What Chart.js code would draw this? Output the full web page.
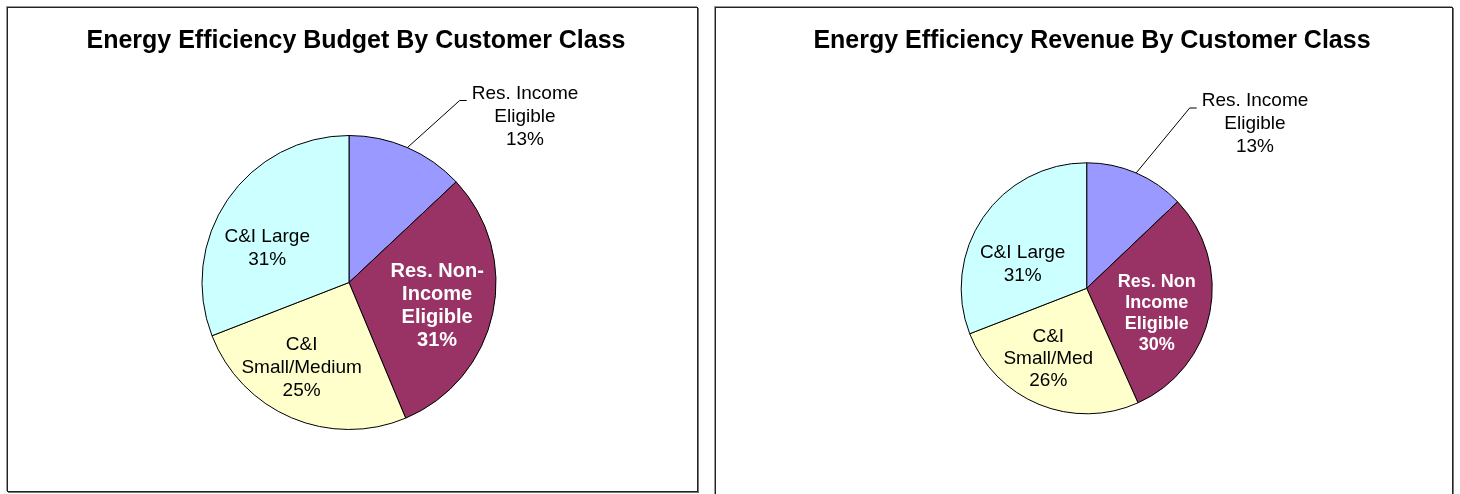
<!DOCTYPE html>
<html>
<head>
<meta charset="utf-8">
<script src="https://cdn.jsdelivr.net/npm/chart.js@4/dist/chart.umd.min.js"></script>
<style>
  html, body { margin: 0; padding: 0; background: #ffffff; }
  body { width: 1460px; height: 494px; position: relative; overflow: hidden; }
  .frame { position: absolute; box-sizing: border-box; border: 1px solid #222; box-shadow: 1px 1px 0 #777, -1px -1px 0 #999; }
  canvas { position: absolute; }
</style>
</head>
<body>
<div class="frame" style="left:7px; top:7px; width:691px; height:485px;"></div>
<div class="frame" style="left:715px; top:7px; width:738px; height:500px;"></div>
<canvas id="budget" width="689" height="483" style="left:8px; top:8px;"></canvas>
<canvas id="revenue" width="736" height="486" style="left:716px; top:8px;"></canvas>
<script>
// ---- Data ----
const budgetTitle = "Energy Efficiency Budget By Customer Class";
const budgetCategories = [["Res. Income", "Eligible"], ["Res. Non-", "Income", "Eligible"], ["C&I", "Small/Medium"], ["C&I Large"]];
const budgetValues = [13.0, 30.7, 25.4, 30.9];

const revenueTitle = "Energy Efficiency Revenue By Customer Class";
const revenueCategories = [["Res. Income", "Eligible"], ["Res. Non", "Income", "Eligible"], ["C&I", "Small/Med"], ["C&I Large"]];
const revenueValues = [12.9, 30.4, 25.8, 30.9];

// ---- Styles ----
const sliceColors = ["#9999FF", "#993366", "#FFFFCC", "#CCFFFF"];
const FONT = '"Liberation Sans", Arial, Helvetica, sans-serif';

const sliceLabelPlugin = {
  id: 'sliceLabels',
  afterDatasetsDraw(chart, args, opts) {
    const ctx = chart.ctx;
    ctx.save();
    // title
    ctx.fillStyle = '#000';
    ctx.font = 'bold 25px ' + FONT;
    ctx.textAlign = 'center';
    ctx.textBaseline = 'middle';
    ctx.fillText(opts.title, opts.titleX, opts.titleY);

    const meta = chart.getDatasetMeta(0);
    const vals = chart.data.datasets[0].data;
    const sum = vals.reduce((a, b) => a + b, 0);
    meta.data.forEach((arc, i) => {
      const p = arc.getProps(['x', 'y', 'startAngle', 'endAngle', 'outerRadius'], true);
      const mid = (p.startAngle + p.endAngle) / 2;
      const cfg = opts.items[i];
      const lines = [].concat(chart.data.labels[i]);
      lines.push(Math.round(vals[i] / sum * 100) + '%');
      const cx = p.x + Math.cos(mid) * p.outerRadius * cfg.r + cfg.dx;
      const cy = p.y + Math.sin(mid) * p.outerRadius * cfg.r + cfg.dy;
      ctx.font = (cfg.bold ? 'bold ' : '') + cfg.size + 'px ' + FONT;
      ctx.fillStyle = cfg.color;
      ctx.textAlign = 'center';
      ctx.textBaseline = 'middle';
      const lh = cfg.lh;
      const top = cy - (lines.length - 1) * lh / 2;
      lines.forEach((t, k) => ctx.fillText(t, cx, top + k * lh));
      if (cfg.leader) {
        const w = ctx.measureText(lines[0]).width;
        const ex = cx - w / 2 - 5;
        const ey = top + 7;
        const sx = p.x + Math.cos(mid) * p.outerRadius;
        const sy = p.y + Math.sin(mid) * p.outerRadius;
        ctx.strokeStyle = '#000';
        ctx.lineWidth = 1;
        ctx.beginPath();
        ctx.moveTo(sx, sy);
        ctx.lineTo(ex - 7, ey);
        ctx.lineTo(ex, ey);
        ctx.stroke();
      }
    });
    ctx.restore();
  }
};

function makePie(id, labels, values, radius, padding, labelOpts) {
  return new Chart(document.getElementById(id), {
    type: 'pie',
    data: {
      labels: labels,
      datasets: [{
        data: values,
        backgroundColor: sliceColors,
        borderColor: '#000',
        borderWidth: 1,
        hoverOffset: 0
      }]
    },
    options: {
      responsive: false,
      animation: false,
      radius: radius,
      layout: { padding: padding },
      plugins: {
        legend: { display: false },
        title: { display: false },
        tooltip: { enabled: false },
        sliceLabels: labelOpts
      }
    },
    plugins: [sliceLabelPlugin]
  });
}

makePie('budget', budgetCategories, budgetValues, 147,
  { left: 40, right: 47, top: 100, bottom: 34 },
  {
    title: budgetTitle, titleX: 348, titleY: 33,
    items: [
      { r: 0, dx: 176, dy: -166, size: 19, lh: 23, bold: false, color: '#000', leader: true },
      { r: 0.62, dx: -1, dy: 4.6, size: 20, lh: 23, bold: true, color: '#fff' },
      { r: 0.62, dx: -11.7, dy: 1.2, size: 19, lh: 23, bold: false, color: '#000' },
      { r: 0.62, dx: -6.6, dy: 17.5, size: 19, lh: 23, bold: false, color: '#000' }
    ]
  });

makePie('revenue', revenueCategories, revenueValues, 125.5,
  { left: 50, right: 44.6, top: 100, bottom: 25.4 },
  {
    title: revenueTitle, titleX: 376, titleY: 33,
    items: [
      { r: 0, dx: 168.3, dy: -164.3, size: 19, lh: 23, bold: false, color: '#000', leader: true },
      { r: 0.6, dx: -3.9, dy: 10.4, size: 18, lh: 21, bold: true, color: '#fff' },
      { r: 0.6, dx: -9.8, dy: 1, size: 19, lh: 22, bold: false, color: '#000' },
      { r: 0.6, dx: -1.9, dy: 18.5, size: 19, lh: 23, bold: false, color: '#000' }
    ]
  });
</script>
</body>
</html>
